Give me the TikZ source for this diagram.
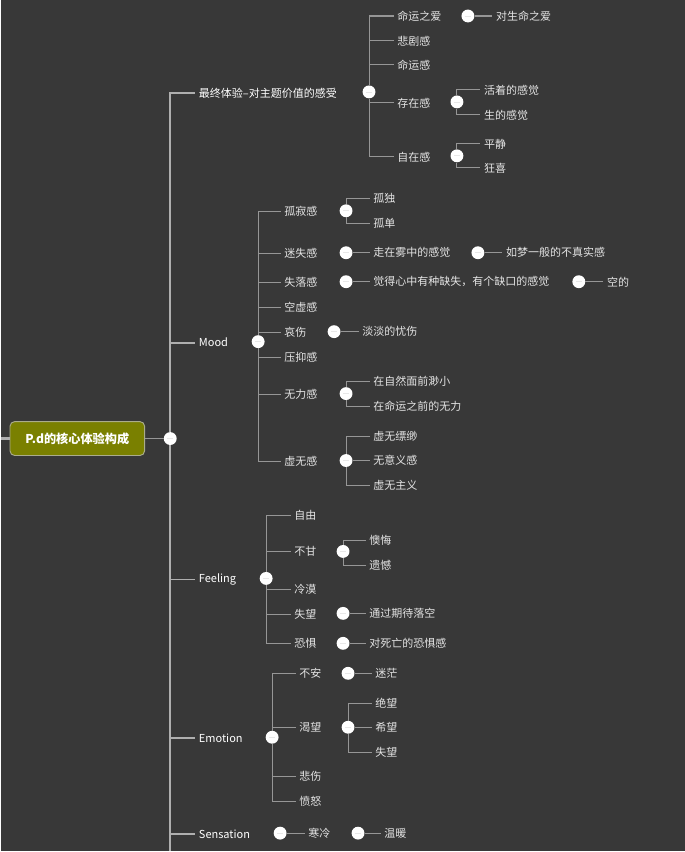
\documentclass[tikz,border=0pt]{standalone}
\usepackage{fontspec}
\setmainfont{Noto Sans CJK SC}

\definecolor{canvas}{RGB}{56,56,56}
\definecolor{linegray}{RGB}{150,150,150}
\definecolor{trunkgray}{RGB}{175,175,175}
\definecolor{labelgray}{RGB}{228,228,228}
\definecolor{rootfill}{RGB}{122,128,0}
\definecolor{rootedge}{RGB}{170,172,140}

\begin{document}
\begin{tikzpicture}[
  x=0.03cm, y=-0.03cm,
  font=\fontsize{9.4pt}{11pt}\selectfont,
  link/.style={draw=linegray, line width=0.9pt},
  trunk/.style={draw=trunkgray, line width=1.5pt},
  root/.style={
    rounded corners=4pt,
    draw=rootedge,
    line width=0.8pt,
    fill=rootfill,
    text=white,
    font=\fontsize{10.4pt}{12pt}\selectfont\bfseries,
    minimum width=115pt,
    minimum height=29pt
  },
  topic/.style={anchor=west, inner xsep=3pt, inner ysep=1pt, text=white},
  leaf/.style={anchor=west, inner xsep=3pt, inner ysep=1pt, text=labelgray},
  fold/.style={
    circle,
    fill=white,
    inner sep=0pt,
    minimum size=11pt,
    path picture={\draw[gray!18, line width=0.6pt]
      ([xshift=-2.6pt]path picture bounding box.center) --
      ([xshift=2.6pt]path picture bounding box.center);}
  }
]

\fill[canvas] (0,0) rectangle (684,852);

% Central topic and its main trunk.
\coordinate (stub) at (0,439);
\node[root] (root) at (76,439) {P.d的核心体验构成};
\node[fold] (c0) at (169,439) {};
\coordinate (trunkend) at (169,852);
\draw[trunk, line width=2.4pt] (stub) -- (root.west);
\draw[link] (root.east) -- (c0);

\node[topic] (ult) at (194,93) {最终体验–对主题价值的感受};
\node[topic] (mood) at (194,343) {Mood};
\node[topic] (feel) at (194,580) {Feeling};
\node[topic] (emo) at (194,739) {Emotion};
\node[topic] (sens) at (194,835) {Sensation};
\draw[trunk] (c0) |- (ult.west);
\draw[trunk] (c0) |- (mood.west);
\draw[trunk] (c0) |- (feel.west);
\draw[trunk] (c0) |- (emo.west);
\draw[trunk] (c0) |- (sens.west);
\draw[trunk] (c0) -- (trunkend);

% Ultimate experience branch.
\node[fold] (cu) at (368,92) {};
\node[leaf] (u1) at (392.5,16) {命运之爱};
\node[leaf] (u2) at (392.5,41) {悲剧感};
\node[leaf] (u3) at (392.5,65) {命运感};
\node[leaf] (u4) at (392.5,103) {存在感};
\node[leaf] (u5) at (392.5,157) {自在感};
\foreach \n in {u1,u2,u3,u4,u5} \draw[link] (cu) |- (\n.west);

\node[fold] (cu1) at (467,16) {};
\node[leaf] (u11) at (491.5,16) {对生命之爱};
\draw[link] (cu1) -- (u11.west);

\node[fold] (cu4) at (456,102) {};
\node[leaf] (u41) at (479.5,90) {活着的感觉};
\node[leaf] (u42) at (479.5,115) {生的感觉};
\draw[link] (cu4) |- (u41.west);
\draw[link] (cu4) |- (u42.west);

\node[fold] (cu5) at (456,156) {};
\node[leaf] (u51) at (479.5,144) {平静};
\node[leaf] (u52) at (479.5,168) {狂喜};
\draw[link] (cu5) |- (u51.west);
\draw[link] (cu5) |- (u52.west);

% Mood branch.
\node[fold] (cm) at (257,342) {};
\node[leaf] (m1) at (279.5,212) {孤寂感};
\node[leaf] (m2) at (279.5,254) {迷失感};
\node[leaf] (m3) at (279.5,283) {失落感};
\node[leaf] (m4) at (279.5,308) {空虚感};
\node[leaf] (m5) at (279.5,333) {哀伤};
\node[leaf] (m6) at (279.5,358) {压抑感};
\node[leaf] (m7) at (279.5,395) {无力感};
\node[leaf] (m8) at (279.5,462) {虚无感};
\foreach \n in {m1,m2,m3,m4,m5,m6,m7,m8} \draw[link] (cm) |- (\n.west);

\node[fold] (cm1) at (345,211) {};
\node[leaf] (m11) at (368.5,199) {孤独};
\node[leaf] (m12) at (368.5,224) {孤单};
\draw[link] (cm1) |- (m11.west);
\draw[link] (cm1) |- (m12.west);

\node[fold] (cm2) at (345,253) {};
\node[leaf] (m21) at (368.5,253) {走在雾中的感觉};
\node[fold] (cm21) at (477,253) {};
\node[leaf] (m211) at (501.5,253) {如梦一般的不真实感};
\draw[link] (cm2) -- (m21.west);
\draw[link] (cm21) -- (m211.west);

\node[fold] (cm3) at (345,282) {};
\node[leaf] (m31) at (368.5,282) {觉得心中有种缺失，有个缺口的感觉};
\node[fold] (cm31) at (578,282) {};
\node[leaf] (m311) at (602.5,282) {空的};
\draw[link] (cm3) -- (m31.west);
\draw[link] (cm31) -- (m311.west);

\node[fold] (cm5) at (333,332) {};
\node[leaf] (m51) at (357.5,332) {淡淡的忧伤};
\draw[link] (cm5) -- (m51.west);

\node[fold] (cm7) at (345,394) {};
\node[leaf] (m71) at (368.5,382) {在自然面前渺小};
\node[leaf] (m72) at (368.5,407) {在命运之前的无力};
\draw[link] (cm7) |- (m71.west);
\draw[link] (cm7) |- (m72.west);

\node[fold] (cm8) at (345,461) {};
\node[leaf] (m81) at (368.5,437) {虚无缥缈};
\node[leaf] (m82) at (368.5,461) {无意义感};
\node[leaf] (m83) at (368.5,486) {虚无主义};
\draw[link] (cm8) |- (m81.west);
\draw[link] (cm8) -- (m82.west);
\draw[link] (cm8) |- (m83.west);

% Feeling branch.
\node[fold] (cf) at (265,579) {};
\node[leaf] (f1) at (289.5,516) {自由};
\node[leaf] (f2) at (289.5,552) {不甘};
\node[leaf] (f3) at (289.5,590) {冷漠};
\node[leaf] (f4) at (289.5,615) {失望};
\node[leaf] (f5) at (289.5,644) {恐惧};
\foreach \n in {f1,f2,f3,f4,f5} \draw[link] (cf) |- (\n.west);

\node[fold] (cf2) at (342,552) {};
\node[leaf] (f21) at (364.5,541) {懊悔};
\node[leaf] (f22) at (364.5,566) {遗憾};
\draw[link] (cf2) |- (f21.west);
\draw[link] (cf2) |- (f22.west);

\node[fold] (cf4) at (342,614) {};
\node[leaf] (f41) at (364.5,614) {通过期待落空};
\draw[link] (cf4) -- (f41.west);

\node[fold] (cf5) at (342,644) {};
\node[leaf] (f51) at (364.5,644) {对死亡的恐惧感};
\draw[link] (cf5) -- (f51.west);

% Emotion branch.
\node[fold] (ce) at (271,738) {};
\node[leaf] (e1) at (294.5,674) {不安};
\node[leaf] (e2) at (294.5,728) {渴望};
\node[leaf] (e3) at (294.5,777) {悲伤};
\node[leaf] (e4) at (294.5,802) {愤怒};
\foreach \n in {e1,e2,e3,e4} \draw[link] (ce) |- (\n.west);

\node[fold] (ce1) at (347,674) {};
\node[leaf] (e11) at (370.5,674) {迷茫};
\draw[link] (ce1) -- (e11.west);

\node[fold] (ce2) at (347,728) {};
\node[leaf] (e21) at (370.5,704) {绝望};
\node[leaf] (e22) at (370.5,728) {希望};
\node[leaf] (e23) at (370.5,753) {失望};
\draw[link] (ce2) |- (e21.west);
\draw[link] (ce2) -- (e22.west);
\draw[link] (ce2) |- (e23.west);

% Sensation branch.
\node[fold] (cs) at (279,834) {};
\node[leaf] (s1) at (303.5,834) {寒冷};
\node[fold] (cs1) at (357,834) {};
\node[leaf] (s11) at (379.5,834) {温暖};
\draw[link] (cs) -- (s1.west);
\draw[link] (cs1) -- (s11.west);

\end{tikzpicture}
\end{document}
